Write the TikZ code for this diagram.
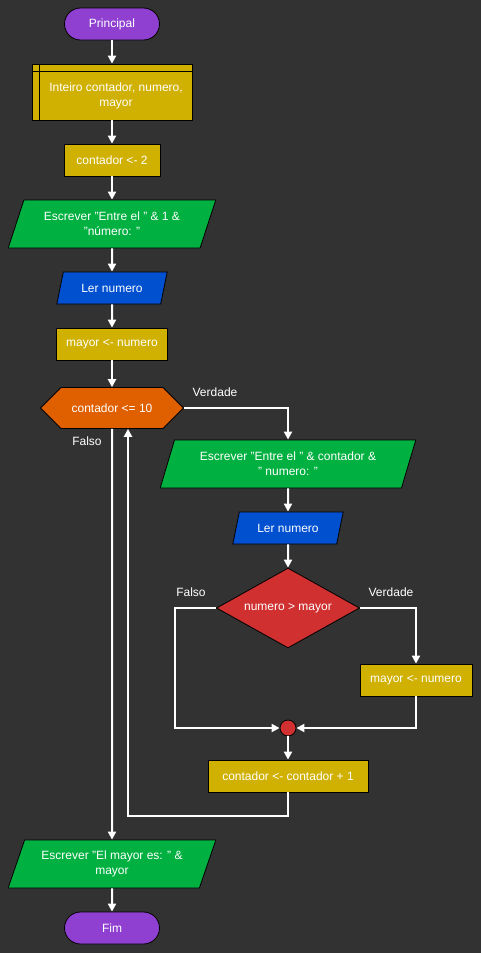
\documentclass[tikz,border=0pt]{standalone}
\usepackage{fontspec}
\setmainfont{Liberation Sans}
\usetikzlibrary{shapes.geometric,shapes.misc,arrows.meta}

\definecolor{bgc}{RGB}{50,50,50}
\definecolor{termc}{RGB}{143,64,208}
\definecolor{procc}{RGB}{208,176,0}
\definecolor{outc}{RGB}{0,176,64}
\definecolor{inc}{RGB}{0,80,208}
\definecolor{loopc}{RGB}{224,96,0}
\definecolor{decc}{RGB}{208,48,48}

\tikzset{
  base/.style={draw=black, line width=0.8pt, text=white,
    font=\fontsize{12}{15}\selectfont, align=center, inner sep=0pt},
  term/.style={base, fill=termc, rectangle, rounded corners=16pt,
    minimum width=95pt, minimum height=32pt},
  proc/.style={base, fill=procc, rectangle, minimum height=32pt},
  outbox/.style={base, fill=outc, trapezium, trapezium left angle=63,
    trapezium right angle=117, trapezium stretches=true, minimum height=48pt},
  inbox/.style={base, fill=inc, trapezium, trapezium left angle=64,
    trapezium right angle=116, trapezium stretches=true, minimum height=32pt,
    minimum width=111pt},
  hexbox/.style={base, fill=loopc, chamfered rectangle,
    chamfered rectangle xsep=14pt, chamfered rectangle ysep=16pt,
    minimum width=143pt, minimum height=32pt},
  decbox/.style={base, fill=decc, diamond, shape aspect=1.8,
    minimum width=143pt, minimum height=80pt},
  joinpt/.style={draw=black, line width=0.8pt, fill=decc, circle,
    minimum size=16pt, inner sep=0pt},
  lbl/.style={text=white, font=\fontsize{12}{15}\selectfont, inner sep=0pt},
  wire/.style={draw=white, line width=2pt},
  flow/.style={wire, -{Triangle[width=8pt,length=8pt]}},
}

\begin{document}
\begin{tikzpicture}[x=1pt,y=-1pt]
  \useasboundingbox (0,0) rectangle (481,953);
  \fill[bgc] (0,0) rectangle (481,953);

  % main column
  \node[term] (start) at (112,24) {Principal};
  \node[base, fill=procc, rectangle, minimum width=160pt, minimum height=56pt] (decl) at (112,92) {};
  \draw[black, line width=0.8pt] ([xshift=8pt]decl.north west) -- ([xshift=8pt]decl.south west);
  \draw[black, line width=0.8pt] ([yshift=-8pt]decl.north west) -- ([yshift=-8pt]decl.north east);
  \node[lbl, align=center] (decltext) at (116,96) {Inteiro contador, numero,\\mayor};
  \node[proc, minimum width=96pt] (init) at (112,160) {contador <- 2};
  \node[outbox, minimum width=208pt] (w1) at (112,224) {Escrever "Entre el " \& 1 \&\\"número: "};
  \node[inbox] (r1) at (112,288) {Ler numero};
  \node[proc, minimum width=111pt] (m1) at (112,344) {mayor <- numero};
  \node[hexbox] (loop) at (112,408) {contador <= 10};
  \node[outbox, minimum width=208pt] (w3) at (112,864) {Escrever "El mayor es: " \&\\mayor};
  \node[term] (stop) at (112,928) {Fim};

  % loop body
  \node[outbox, minimum width=256pt, trapezium left angle=65, trapezium right angle=115] (w2) at (288,464) {Escrever "Entre el " \& contador \&\\" numero: "};
  \node[inbox] (r2) at (288,528) {Ler numero};
  \node[decbox] (cmp) at (288,608) {numero > mayor};
  \node[proc, minimum width=112pt] (upd) at (416,680) {mayor <- numero};
  \node[joinpt] (join) at (288,728) {};
  \node[proc, minimum width=160pt] (incr) at (288,776) {contador <- contador + 1};

  % branch labels
  \node[lbl] (lv1) at (215,392) {Verdade};
  \node[lbl] (lf1) at (87,441) {Falso};
  \node[lbl] (lf2) at (191,592) {Falso};
  \node[lbl] (lv2) at (391,592) {Verdade};

  % connectors
  \draw[flow] (start) -- (decl);
  \draw[flow] (decl) -- (init);
  \draw[flow] (init) -- (w1);
  \draw[flow] (w1) -- (r1);
  \draw[flow] (r1) -- (m1);
  \draw[flow] (m1) -- (loop);
  \draw[flow] (loop.east) -| (w2.north);
  \draw[flow] (w2) -- (r2);
  \draw[flow] (r2) -- (cmp);
  \draw[flow] (cmp.west) -- ++(-41,0) |- (join.west);
  \draw[flow] (cmp.east) -| (upd.north);
  \draw[flow] (upd.south) |- (join.east);
  \draw[flow] (join) -- (incr);
  \draw[flow] (incr.south) -- ++(0,24) -| ([xshift=16pt]loop.south);
  \draw[flow] (loop.south) -- (w3.north);
  \draw[flow] (w3) -- (stop);
\end{tikzpicture}
\end{document}
